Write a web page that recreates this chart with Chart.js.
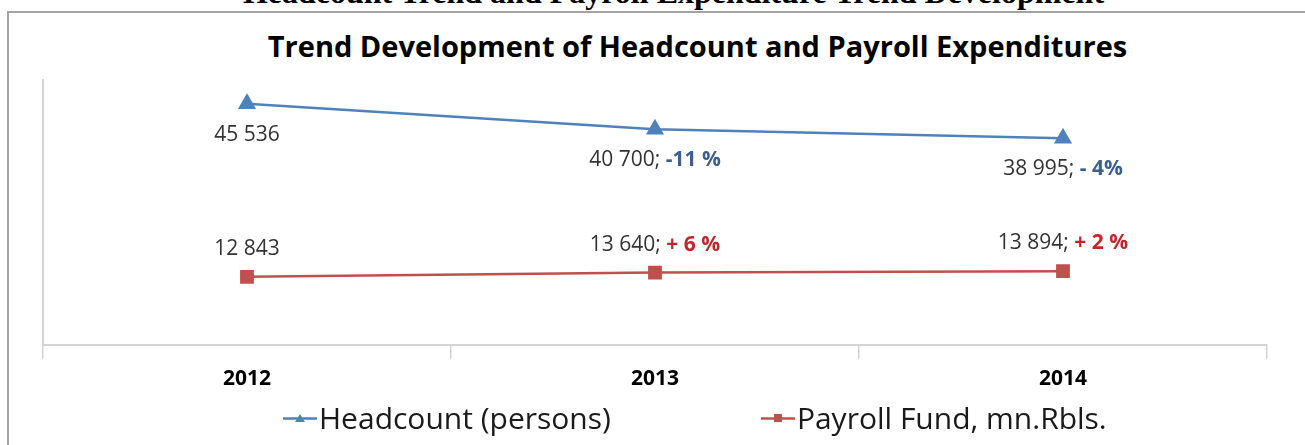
<!DOCTYPE html>
<html>
<head>
<meta charset="utf-8">
<title>Trend Development of Headcount and Payroll Expenditures</title>
<script src="https://cdn.jsdelivr.net/npm/chart.js@4.4.1/dist/chart.umd.min.js"></script>
<style>
  html, body { margin: 0; padding: 0; background: #fff; }
  body { width: 1305px; height: 445px; position: relative; overflow: hidden; }
  #pageTitle {
    position: absolute; left: 21px; width: 1305px; top: -24px;
    text-align: center; font: bold 32px/32px 'Liberation Serif', 'Times New Roman', serif; color: #000;
    white-space: nowrap;
  }
  #frame {
    position: absolute; left: 7px; top: 11px; width: 1320px; height: 460px;
    border-left: 2px solid #a3a3a3; border-top: 2px solid #a3a3a3;
  }
  #chartTitle {
    position: absolute; left: 45px; width: 1305px; top: 31px;
    text-align: center; font: bold 29px/29px 'Open Sans', sans-serif; color: #000;
    white-space: nowrap;
  }
  #chartBox { position: absolute; left: 0; top: 0; width: 1305px; height: 409px; }
  #legend {
    position: absolute; left: 283px; top: 398px; display: flex; gap: 150px;
    font: 30px/40px 'Open Sans', sans-serif; color: #1a1a1a; white-space: nowrap;
  }
  #legend .item { display: flex; align-items: center; }
  #legend svg { margin-right: 2px; }
</style>
</head>
<body>
<div id="pageTitle">Headcount Trend and Payroll Expenditure Trend Development</div>
<div id="frame"></div>
<div id="chartTitle">Trend Development of Headcount and Payroll Expenditures</div>
<div id="chartBox"><canvas id="trendChart"></canvas></div>
<div id="legend"></div>

<script>
// datos del gráfico
const years = ['2012', '2013', '2014'];
const headcount = [45536, 40700, 38995];
const payroll = [12843, 13640, 13894];
const headcountChange = ['', '-11 %', '- 4%'];
const payrollChange = ['', '+ 6 %', '+ 2 %'];

const blue = '#4f81bd';
const red = '#c0504d';

function formatNumber(v) {
  return String(v).replace(/\B(?=(\d{3})+(?!\d))/g, ' ');
}

// etiquetas de valor con la parte de variación en negrita y color
const pointLabels = {
  id: 'pointLabels',
  afterDatasetsDraw(chart) {
    const ctx = chart.ctx;
    const size = 21;
    chart.data.datasets.forEach((ds, i) => {
      const meta = chart.getDatasetMeta(i);
      meta.data.forEach((pt, j) => {
        const main = formatNumber(ds.data[j]) + (ds.changes[j] ? '; ' : '');
        const extra = ds.changes[j];
        ctx.save();
        ctx.textBaseline = 'middle';
        ctx.textAlign = 'left';
        ctx.font = `${size}px 'Open Sans'`;
        const w1 = ctx.measureText(main).width;
        ctx.font = `bold ${size}px 'Open Sans'`;
        const w2 = extra ? ctx.measureText(extra).width : 0;
        const x = pt.x - (w1 + w2) / 2;
        const y = pt.y + ds.labelOffset;
        ctx.font = `${size}px 'Open Sans'`;
        ctx.fillStyle = '#333';
        ctx.fillText(main, x, y);
        if (extra) {
          ctx.font = `bold ${size}px 'Open Sans'`;
          ctx.fillStyle = ds.changeColor;
          ctx.fillText(extra, x + w1, y);
        }
        ctx.restore();
      });
    });
  }
};

const ctx = document.getElementById('trendChart');

const chart = new Chart(ctx, {
  type: 'line',
  data: {
    labels: years,
    datasets: [
      {
        label: 'Headcount (persons)',
        data: headcount,
        changes: headcountChange,
        changeColor: '#3d5f8e',
        labelOffset: 31,
        borderColor: blue,
        backgroundColor: blue,
        borderWidth: 2.5,
        pointStyle: 'triangle',
        pointRadius: 8,
        pointHoverRadius: 8,
        tension: 0
      },
      {
        label: 'Payroll Fund, mn.Rbls.',
        data: payroll,
        changes: payrollChange,
        changeColor: '#c0272d',
        labelOffset: -28,
        borderColor: red,
        backgroundColor: red,
        borderWidth: 2.5,
        pointStyle: 'rect',
        pointRadius: 8,
        pointHoverRadius: 8,
        tension: 0
      }
    ]
  },
  options: {
    responsive: true,
    maintainAspectRatio: false,
    animation: false,
    layout: { padding: { left: 43, right: 38, top: 80, bottom: 9 } },
    plugins: {
      legend: { display: false },
      tooltip: { enabled: false },
      title: { display: false }
    },
    scales: {
      x: {
        offset: true,
        grid: { offset: true, drawOnChartArea: false, tickLength: 14, color: '#d4d4d4', lineWidth: 1.5 },
        border: { color: '#d4d4d4', width: 2 },
        ticks: {
          padding: 8,
          color: '#000',
          font: { family: 'Open Sans', size: 21, weight: 'bold' }
        }
      },
      y: {
        min: 0,
        max: 50000,
        ticks: { display: false },
        grid: { display: false },
        border: { color: '#d4d4d4', width: 2 },
        afterFit: scale => { scale.width = 0; }
      }
    }
  },
  plugins: [pointLabels]
});

// leyenda en HTML (línea con marcador)
function markerSvg(color, style) {
  const shape = style === 'triangle'
    ? `<polygon points="17,3 22,11 12,11" fill="${color}"/>`
    : `<rect x="13" y="3" width="8" height="8" fill="${color}"/>`;
  return `<svg width="34" height="14" viewBox="0 0 34 14"><line x1="0" y1="7.5" x2="34" y2="7.5" stroke="${color}" stroke-width="2.5"/>${shape}</svg>`;
}

const legendEl = document.getElementById('legend');
chart.data.datasets.forEach(ds => {
  const item = document.createElement('div');
  item.className = 'item';
  item.innerHTML = markerSvg(ds.borderColor, ds.pointStyle) + `<span>${ds.label}</span>`;
  legendEl.appendChild(item);
});
</script>
</body>
</html>
